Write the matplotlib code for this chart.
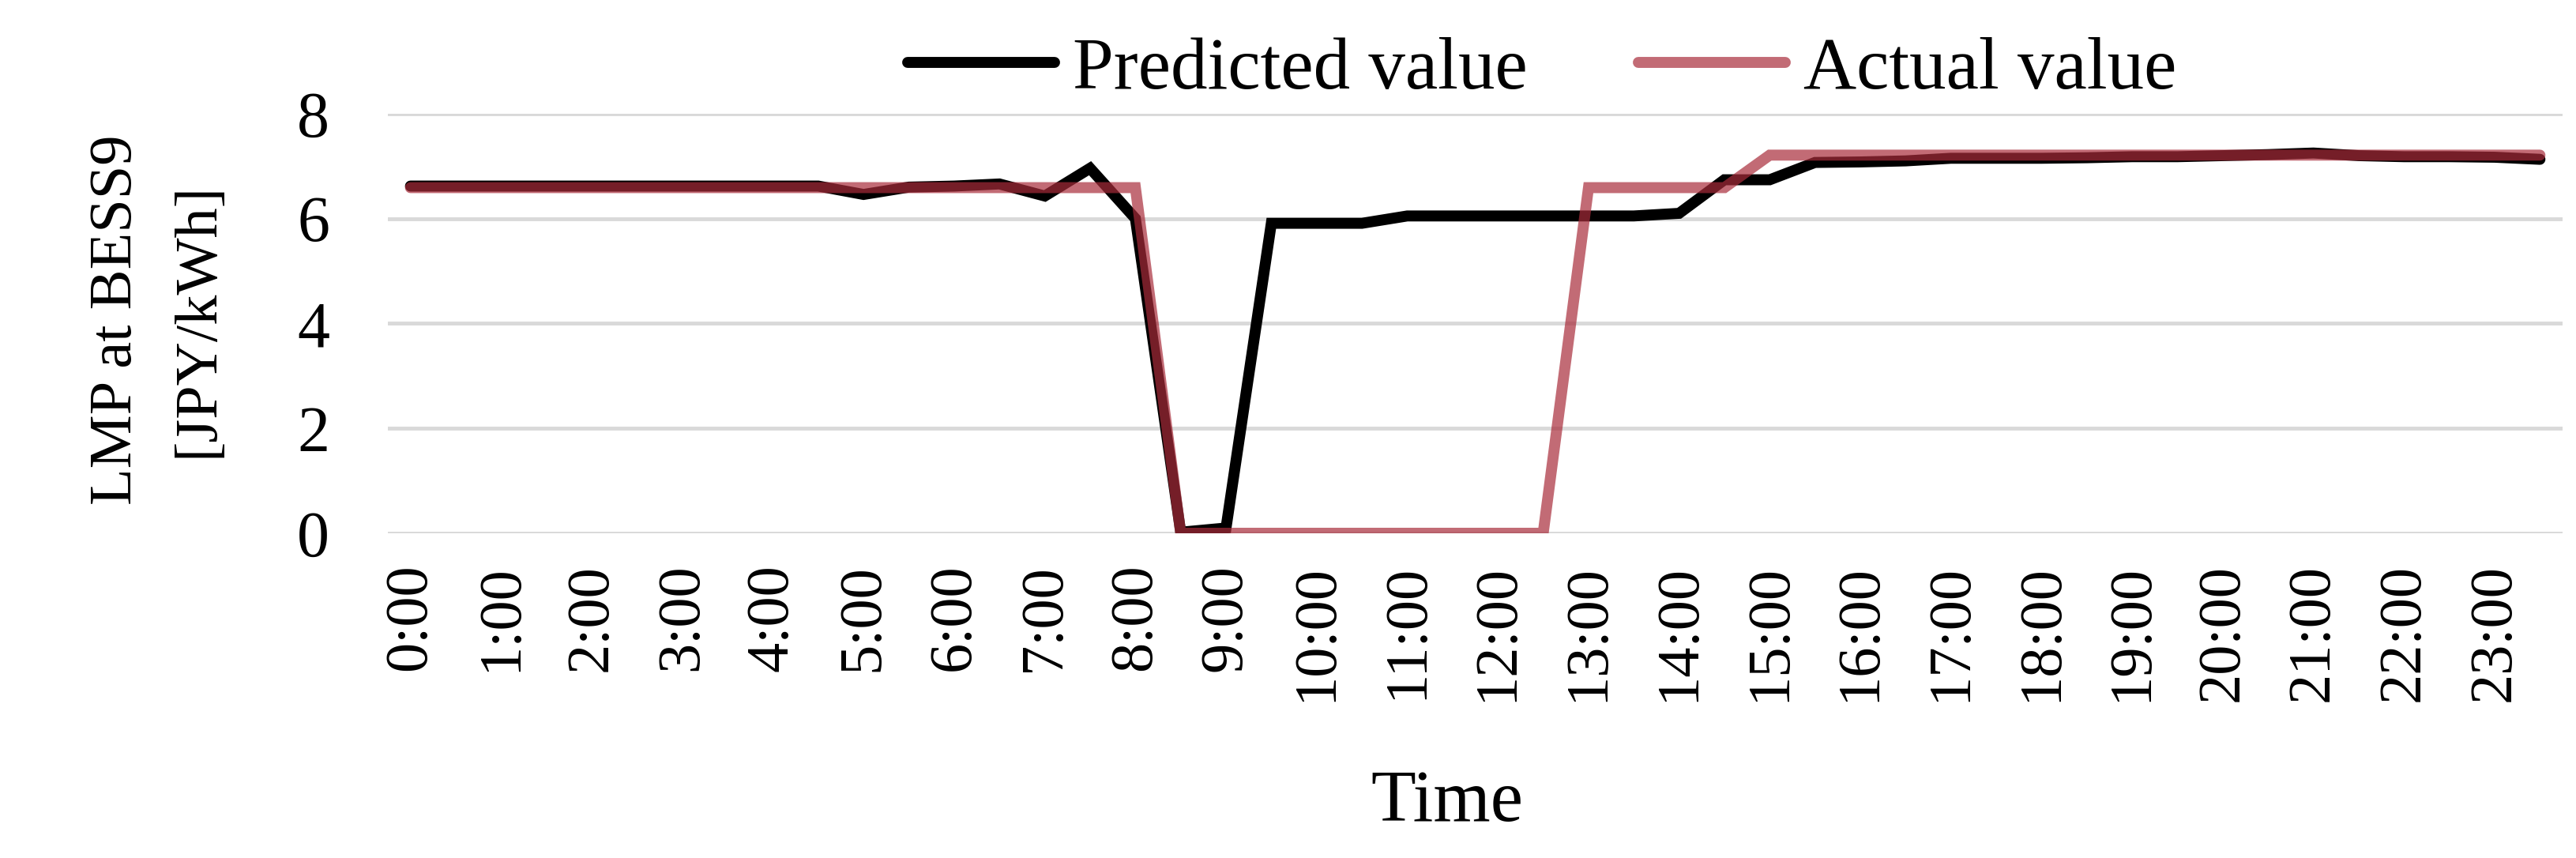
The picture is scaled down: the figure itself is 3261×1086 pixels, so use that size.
import matplotlib
matplotlib.use("Agg")
import matplotlib.pyplot as plt
import numpy as np

plt.rcParams['font.family'] = ['Liberation Serif', 'DejaVu Serif']

# half-hourly slots, 0:00 .. 23:30
hours = [f"{h}:00" for h in range(24)]

predicted = [6.62, 6.62, 6.62, 6.62, 6.62, 6.62, 6.62, 6.62, 6.62, 6.62,
             6.46, 6.60, 6.62, 6.66, 6.43, 6.96, 6.00, 0.02, 0.10, 5.91,
             5.91, 5.91, 6.05, 6.05, 6.05, 6.05, 6.05, 6.05, 6.10, 6.74,
             6.74, 7.07, 7.08, 7.10, 7.15, 7.15, 7.15, 7.16, 7.18, 7.18,
             7.20, 7.22, 7.25, 7.20, 7.18, 7.18, 7.17, 7.13]

actual = [6.59, 6.59, 6.59, 6.59, 6.59, 6.59, 6.59, 6.59, 6.59, 6.59,
          6.59, 6.59, 6.59, 6.59, 6.59, 6.59, 6.59, 0.0, 0.0, 0.0,
          0.0, 0.0, 0.0, 0.0, 0.0, 0.0, 6.59, 6.59, 6.59, 6.59,
          7.21, 7.21, 7.21, 7.21, 7.21, 7.21, 7.21, 7.21, 7.21, 7.21,
          7.21, 7.21, 7.21, 7.21, 7.21, 7.21, 7.21, 7.21]

x = np.arange(len(predicted))

fig = plt.figure(figsize=(32.62, 10.86), dpi=100)
ax = fig.add_axes([0.1505, 0.3785, 0.8440, 0.4890])

lp, = ax.plot(x, predicted, color='black', lw=10,
              solid_capstyle='round', solid_joinstyle='miter', zorder=3)
la, = ax.plot(x, actual, color='#a82c3a', alpha=0.7, lw=10,
              solid_capstyle='round', solid_joinstyle='miter', zorder=4)

ax.set_xlim(-0.5, len(x) - 0.5)
ax.set_ylim(0, 8)
ax.set_yticks([0, 2, 4, 6, 8])
ax.set_xticks(x[::2])
ax.set_xticklabels(hours, rotation=90, fontsize=55)
ax.tick_params(axis='x', length=0, pad=28)
ax.tick_params(axis='y', length=0, pad=53, labelsize=59)

ax.yaxis.grid(True, color='#d9d9d9', lw=3.5)
ax.set_axisbelow(True)
for s in ax.spines.values():
    s.set_visible(False)

fig.text(199 / 3262, 1 - 405 / 1086, "LMP at BESS9\n[JPY/kWh]", rotation=90,
         ha='center', va='center', fontsize=55, linespacing=1.65,
         multialignment='center')
fig.text(1832 / 3262, 1 - 1039 / 1086, "Time", ha='center', va='baseline',
         fontsize=67)

fig.legend([lp, la], ["Predicted value", "Actual value"], loc='center',
           bbox_to_anchor=(0.5985, 0.918), ncol=2, frameon=False, fontsize=67,
           handlelength=2.0, handletextpad=0.25, columnspacing=1.5)

fig.savefig("out.png", dpi=100)
